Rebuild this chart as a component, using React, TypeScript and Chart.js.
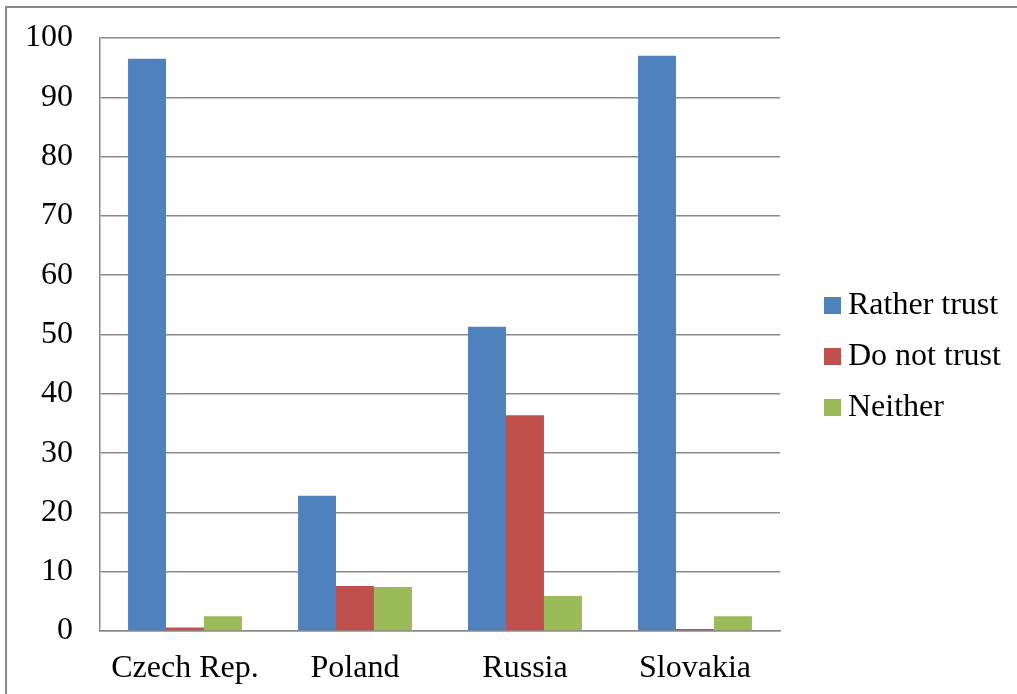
import React, { useEffect, useRef } from "react";
import { Chart, registerables } from "chart.js";

Chart.register(...registerables);

const categories = ["Czech Rep.", "Poland", "Russia", "Slovakia"];
const seriesNames = ["Rather trust", "Do not trust", "Neither"];
const ratherTrust = [96.5, 22.8, 51.3, 97.0];
const doNotTrust = [0.6, 7.6, 36.4, 0.35];
const neither = [2.5, 7.4, 5.9, 2.5];
const seriesColors = ["#4F81BD", "#C0504D", "#9BBB59"];
const yTicks = [0, 10, 20, 30, 40, 50, 60, 70, 80, 90, 100];

const FONT = '"Liberation Serif", "Times New Roman", serif';
const GRID = "#8a8a8a";

const framePlugin = {
  id: "frame",
  beforeDraw(chart: any) {
    const ctx = chart.ctx;
    ctx.save();
    ctx.fillStyle = "#ffffff";
    ctx.fillRect(0, 0, chart.width, chart.height);
    ctx.strokeStyle = GRID;
    ctx.lineWidth = 2;
    ctx.beginPath();
    ctx.moveTo(6, chart.height);
    ctx.lineTo(6, 7);
    ctx.lineTo(chart.width, 7);
    ctx.stroke();
    ctx.restore();
  },
};

const legendPlugin = {
  id: "sideLegend",
  afterDraw(chart: any) {
    const ctx = chart.ctx;
    const x = 824;
    const y0 = 305;
    const step = 51;
    ctx.save();
    ctx.font = `32px ${FONT}`;
    ctx.textBaseline = "middle";
    ctx.textAlign = "left";
    chart.data.datasets.forEach((ds: any, i: number) => {
      const cy = y0 + i * step;
      ctx.fillStyle = ds.backgroundColor;
      ctx.fillRect(x, cy - 8, 17, 17);
      ctx.fillStyle = "#000";
      ctx.fillText(ds.label, x + 24, cy + 1);
    });
    ctx.restore();
  },
};

export default function App() {
  const ref = useRef<HTMLCanvasElement | null>(null);

  useEffect(() => {
    document.body.style.margin = "0";
    const seriesData = [ratherTrust, doNotTrust, neither];
    const chart = new Chart(ref.current!, {
      type: "bar",
      data: {
        labels: categories,
        datasets: seriesNames.map((name, i) => ({
          label: name,
          data: seriesData[i],
          backgroundColor: seriesColors[i],
          borderWidth: 0,
          categoryPercentage: 0.67,
          barPercentage: 1,
        })),
      },
      options: {
        animation: false,
        responsive: false,
        devicePixelRatio: 1,
        layout: { padding: { left: 0, top: 38, right: 237, bottom: 0 } },
        plugins: {
          legend: { display: false },
          tooltip: { enabled: false },
          title: { display: false },
        },
        scales: {
          x: {
            grid: { display: false, drawTicks: false },
            border: { display: true, color: GRID, width: 1.5 },
            ticks: {
              color: "#000",
              font: { family: FONT, size: 32 },
              padding: 18,
              maxRotation: 0,
            },
            afterFit(scale: any) {
              scale.height = 63;
              scale.paddingLeft = 0;
              scale.paddingRight = 0;
            },
          },
          y: {
            min: 0,
            max: 100,
            afterBuildTicks(scale: any) {
              scale.ticks = yTicks.map((v) => ({ value: v }));
            },
            grid: { color: GRID, lineWidth: 1.5, drawTicks: false },
            border: { display: true, color: GRID, width: 1.5 },
            ticks: {
              color: "#000",
              font: { family: FONT, size: 32 },
              padding: 27,
            },
            afterFit(scale: any) {
              scale.width = 100;
              scale.paddingTop = 0;
              scale.paddingBottom = 0;
            },
          },
        },
      },
      plugins: [framePlugin, legendPlugin],
    });
    return () => chart.destroy();
  }, []);

  return (
    <div style={{ position: "fixed", left: 0, top: 0, width: 1017, height: 694 }}>
      <canvas ref={ref} width={1017} height={694} style={{ width: 1017, height: 694 }} />
    </div>
  );
}
